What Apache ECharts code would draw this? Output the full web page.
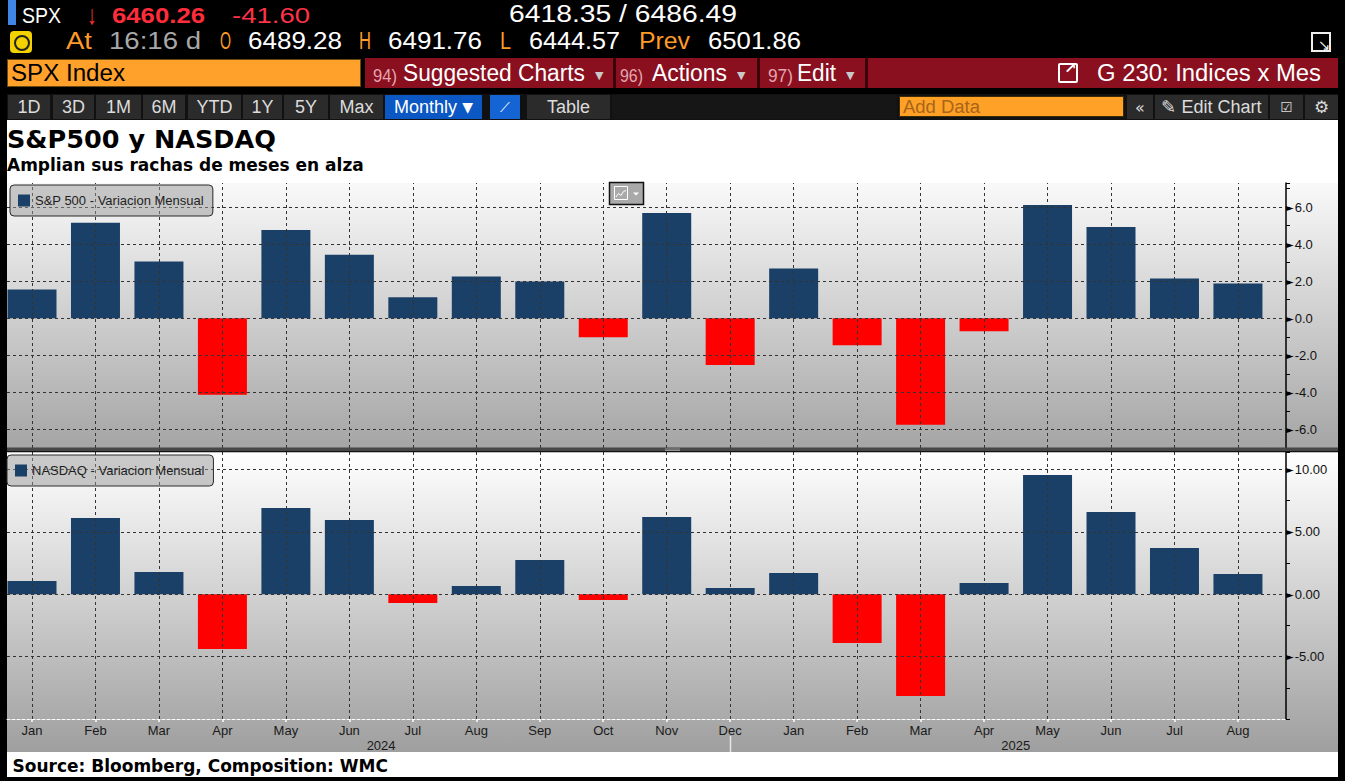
<!DOCTYPE html>
<html><head><meta charset="utf-8">
<script src="https://cdn.jsdelivr.net/npm/echarts@6/dist/echarts.min.js"></script>
<style>
html,body{margin:0;padding:0;background:#000;width:1345px;height:781px;overflow:hidden;}
#chart{position:absolute;left:0;top:0;width:1345px;height:781px;}
.t{position:absolute;white-space:nowrap;font-family:'Liberation Sans',Arial,sans-serif;line-height:1;transform-origin:0 0;}
.b{position:absolute;}
.btn{position:absolute;top:95px;height:24px;background:#2b2b2b;color:#dcdcdc;font-family:'Liberation Sans',Arial,sans-serif;font-size:18px;display:flex;align-items:center;justify-content:center;white-space:nowrap;}
</style></head><body>
<div id="chart"></div>
<div id="hdr">
  <!-- row 1 -->
  <div class="b" style="left:8px;top:0;width:8px;height:25px;background:#3f86e6"></div>
  <div class="t" data-w="39" style="left:22px;top:4.8px;font-size:22.5px;color:#fff">SPX</div>
  <div class="t" data-w="10" style="left:87px;top:2px;font-size:27px;color:#ff3333">↓</div>
  <div class="t" data-w="93" style="left:112px;top:4.8px;font-size:22px;color:#ff2d3c;font-weight:bold">6460.26</div>
  <div class="t" data-w="78" style="left:232px;top:4.8px;font-size:22px;color:#ff3347">-41.60</div>
  <div class="t" data-w="228" style="left:509px;top:2.5px;font-size:23px;color:#fff">6418.35 / 6486.49</div>
  <!-- row 2 -->
  <div class="b" style="left:10px;top:31px;width:22px;height:22px;background:#f3d200;border-radius:4px"></div>
  <div class="b" style="left:14px;top:35px;width:12px;height:12px;border:2px solid #222;border-radius:50%"></div>
  <div class="t" data-w="26" style="left:66px;top:30.3px;font-size:23px;color:#ff9b26">At</div>
  <div class="t" data-w="92" style="left:109px;top:30.3px;font-size:23px;color:#a8a8a8">16:16 d</div>
  <div class="t" data-w="11" style="left:220px;top:30.3px;font-size:23px;color:#ff9b26">O</div>
  <div class="t" data-w="94" style="left:248px;top:30.3px;font-size:23px;color:#fff">6489.28</div>
  <div class="t" data-w="12" style="left:359px;top:30.3px;font-size:23px;color:#ff9b26">H</div>
  <div class="t" data-w="94" style="left:388px;top:30.3px;font-size:23px;color:#fff">6491.76</div>
  <div class="t" data-w="11" style="left:500px;top:30.3px;font-size:23px;color:#ff9b26">L</div>
  <div class="t" data-w="91" style="left:529px;top:30.3px;font-size:23px;color:#fff">6444.57</div>
  <div class="t" data-w="51" style="left:639px;top:30.3px;font-size:23px;color:#ff9b26">Prev</div>
  <div class="t" data-w="93" style="left:708px;top:30.3px;font-size:23px;color:#fff">6501.86</div>
  <div class="b" style="left:1311px;top:32px;width:16px;height:16px;border:2px solid #eee"></div>
  <div class="t" style="left:1318px;top:38px;font-size:15px;color:#eee;font-family:'DejaVu Sans'">↘</div>
  <!-- row 3 -->
  <div class="b" style="left:7px;top:59px;width:354px;height:28px;background:#ffa12b;border:1px solid #6a4a10;box-sizing:border-box"></div>
  <div class="b" style="left:365px;top:58px;width:973px;height:30px;background:#8a0f1f"></div>
  <div class="b" style="left:613px;top:58px;width:3px;height:30px;background:#3a0508"></div>
  <div class="b" style="left:757px;top:58px;width:3px;height:30px;background:#3a0508"></div>
  <div class="b" style="left:865px;top:58px;width:3px;height:30px;background:#3a0508"></div>
  <div class="t" data-w="114" style="left:11px;top:62px;font-size:23px;color:#000">SPX Index</div>
  <div class="t" data-w="24" style="left:373px;top:66.5px;font-size:18px;color:#e3a6ae">94)</div>
  <div class="t" data-w="182" style="left:403px;top:62px;font-size:23px;color:#fff">Suggested Charts</div>
  <div class="t" style="left:595px;top:70px;font-size:11px;color:#c9c9c9;font-family:'DejaVu Sans'">▼</div>
  <div class="t" data-w="23" style="left:620px;top:66.5px;font-size:18px;color:#e3a6ae">96)</div>
  <div class="t" data-w="75" style="left:652px;top:62px;font-size:23px;color:#fff">Actions</div>
  <div class="t" style="left:737px;top:70px;font-size:11px;color:#c9c9c9;font-family:'DejaVu Sans'">▼</div>
  <div class="t" data-w="25" style="left:768px;top:66.5px;font-size:18px;color:#e3a6ae">97)</div>
  <div class="t" data-w="39" style="left:797px;top:62px;font-size:23px;color:#fff">Edit</div>
  <div class="t" style="left:846px;top:70px;font-size:11px;color:#c9c9c9;font-family:'DejaVu Sans'">▼</div>
  <div class="b" style="left:1058px;top:63px;width:16px;height:16px;border:2px solid #fff;border-radius:2px"></div>
  <div class="t" style="left:1064px;top:61px;font-size:15px;color:#fff;font-family:'DejaVu Sans';font-weight:bold">↗</div>
  <div class="t" data-w="224" style="left:1097px;top:62px;font-size:23px;color:#fff">G 230: Indices x Mes</div>
  <!-- row 4 -->
  <div class="b" style="left:7px;top:94px;width:1331px;height:26px;background:#111"></div>
  <div class="btn" style="left:8px;width:42px">1D</div>
  <div class="btn" style="left:53px;width:41px">3D</div>
  <div class="btn" style="left:96px;width:45px">1M</div>
  <div class="btn" style="left:143px;width:42px">6M</div>
  <div class="btn" style="left:188px;width:53px">YTD</div>
  <div class="btn" style="left:243px;width:39px">1Y</div>
  <div class="btn" style="left:284px;width:44px">5Y</div>
  <div class="btn" style="left:330px;width:53px">Max</div>
  <div class="btn" style="left:385px;width:97px;background:#0b57c4;color:#fff">Monthly&nbsp;<span style="font-family:'DejaVu Sans';font-size:14px">▼</span></div>
  <div class="btn" style="left:490px;width:30px;background:#1464d4;color:#fff;font-family:'DejaVu Sans';font-size:14px">⟋</div>
  <div class="btn" style="left:527px;width:83px">Table</div>
  <div class="btn" style="left:612px;width:285px;background:#161616"></div>
  <div class="b" style="left:899px;top:96px;width:225px;height:21px;background:#ffa126;border:1px solid #3a2a08;box-sizing:border-box"></div>
  <div class="t" data-w="77" style="left:903px;top:97.7px;font-size:18px;color:#a8641a">Add Data</div>
  <div class="btn" style="left:1127px;width:26px;font-family:'DejaVu Sans';font-size:16px">«</div>
  <div class="btn" style="left:1155px;width:113px">✎&nbsp;Edit Chart</div>
  <div class="btn" style="left:1270px;width:33px;font-family:'DejaVu Sans';font-size:14px">☑</div>
  <div class="btn" style="left:1305px;width:33px;font-family:'DejaVu Sans';font-size:17px">⚙</div>
</div>
<script>
// ---------------- data ----------------
const months = ['Jan','Feb','Mar','Apr','May','Jun','Jul','Aug','Sep','Oct','Nov','Dec',
                'Jan','Feb','Mar','Apr','May','Jun','Jul','Aug'];
const monthYear = ['2024','2024','2024','2024','2024','2024','2024','2024','2024','2024','2024','2024',
                   '2025','2025','2025','2025','2025','2025','2025','2025'];
const spxChange = [1.55, 5.15, 3.06, -4.13, 4.77, 3.43, 1.13, 2.25, 1.98, -1.02, 5.68, -2.52,
                   2.68, -1.45, -5.74, -0.70, 6.11, 4.93, 2.14, 1.88];
const ndxChange = [1.07, 6.11, 1.79, -4.38, 6.91, 5.95, -0.70, 0.66, 2.75, -0.46, 6.19, 0.50,
                   1.71, -3.90, -8.15, 0.91, 9.56, 6.59, 3.71, 1.63];
const spxTickLabels = [-6, -4, -2, 0, 2, 4, 6];
const ndxTickLabels = [-5, 0, 5, 10];
const spxName = 'S&P 500 - Variacion Mensual';
const ndxName = 'NASDAQ - Variacion Mensual';
const titleText = 'S&P500 y NASDAQ';
const subtitleText = 'Amplian sus rachas de meses en alza';
const sourceText = 'Source: Bloomberg, Composition: WMC';

// ---------------- header fitting ----------------
document.querySelectorAll('.t[data-w]').forEach(el => {
  const w = parseFloat(el.dataset.w);
  const nat = el.getBoundingClientRect().width;
  if (nat > 0) el.style.transform = 'scaleX(' + (w / nat) + ')';
});

// ---------------- chart ----------------
const NAVY = '#1b4068', RED = '#ff0000';
const idx = months.map((_, i) => i);
const X_MIN = -0.394, X_MAX = 19.757;
const chart = echarts.init(document.getElementById('chart'), null, {renderer: 'svg'});

function barSeries(name, vals, gi) {
  return {
    name: name, type: 'bar', xAxisIndex: gi, yAxisIndex: gi,
    data: vals.map((v, i) => [i, v]),
    barWidth: 49, z: 3,
    itemStyle: {color: p => (p.value[1] >= 0 ? NAVY : RED)}
  };
}
function gridLineSeries(gi, yVals) {
  return {
    type: 'line', xAxisIndex: gi, yAxisIndex: gi, data: [], z: 1, silent: true,
    markLine: {
      silent: true, symbol: ['none', 'none'], label: {show: false},
      lineStyle: {color: '#333', type: [3, 3], width: 1},
      emphasis: {disabled: true},
      data: yVals.map(v => ({yAxis: v})).concat(idx.map(i => ({xAxis: i})))
    }
  };
}
const labelRich = {a: {fontFamily: 'DejaVu Sans', fontSize: 10, color: '#000', padding: [0, 1, 0, 0]}};
function yAxis(gi, min, max, interval, labels, digits) {
  return {
    type: 'value', gridIndex: gi, position: 'right', min: min, max: max, interval: interval,
    axisLine: {show: true, onZero: false, lineStyle: {color: '#000', width: 1.5}},
    axisTick: {show: true, length: 4, lineStyle: {color: '#000'}},
    splitLine: {show: false},
    axisLabel: {
      margin: 0, color: '#111', fontSize: 13, fontFamily: 'Liberation Sans, Arial, sans-serif',
      formatter: v => (labels.some(l => Math.abs(l - v) < 1e-9) ? '{a|►}' + v.toFixed(digits) : ''),
      rich: labelRich
    }
  };
}

const gradient = (c0, c1) => new echarts.graphic.LinearGradient(0, 0, 0, 1, [{offset: 0, color: c0}, {offset: 1, color: c1}]);
const legendStyle = {
  icon: 'rect', itemWidth: 12, itemHeight: 12, padding: [9, 9, 9, 8],
  backgroundColor: 'rgba(150,150,150,0.5)', borderColor: '#2a2a2a', borderWidth: 1, borderRadius: 4,
  selectedMode: false, z: 6,
  textStyle: {color: '#1e1e1e', fontSize: 13, fontFamily: 'Liberation Sans, Arial, sans-serif'}
};

chart.setOption({
  animation: false,
  grid: [
    {left: 7, right: 59, top: 183, height: 265},
    {left: 7, right: 59, top: 452, height: 267}
  ],
  xAxis: [
    {type: 'value', gridIndex: 0, min: X_MIN, max: X_MAX, show: true,
     axisLine: {show: false}, axisTick: {show: false}, axisLabel: {show: false}, splitLine: {show: false}},
    {type: 'value', gridIndex: 1, min: X_MIN, max: X_MAX,
     axisLine: {show: true, onZero: false, lineStyle: {color: '#fff', type: [3, 2], width: 1}},
     axisTick: {show: true, customValues: idx, length: 3, lineStyle: {color: '#fff', width: 1.5}},
     axisLabel: {customValues: idx, formatter: v => months[Math.round(v)], color: '#1a1a1a', fontSize: 13,
                 margin: 5, fontFamily: 'Liberation Sans, Arial, sans-serif'},
     splitLine: {show: false}}
  ],
  yAxis: [
    yAxis(0, -7, 7.3, 1, spxTickLabels, 1),
    yAxis(1, -10, 11.4, 2.5, ndxTickLabels, 2)
  ],
  legend: [
    Object.assign({data: [{name: spxName, itemStyle: {color: NAVY}}], left: 10, top: 185}, legendStyle),
    Object.assign({data: [{name: ndxName, itemStyle: {color: NAVY}}], left: 7, top: 455}, legendStyle)
  ],
  series: [
    gridLineSeries(0, spxTickLabels),
    gridLineSeries(1, ndxTickLabels),
    barSeries(spxName, spxChange, 0),
    barSeries(ndxName, ndxChange, 1)
  ]
});

// decorations positioned from the axes
const px = i => chart.convertToPixel({xAxisIndex: 1}, i);
const yearGroups = {};
monthYear.forEach((y, i) => { (yearGroups[y] = yearGroups[y] || []).push(i); });
const yearTexts = Object.keys(yearGroups).map(y => {
  const g = yearGroups[y];
  return {type: 'text', z: 5, x: px((g[0] + g[g.length - 1]) / 2), y: 745,
          style: {text: y, fill: '#1a1a1a', fontSize: 13, fontFamily: 'Liberation Sans, Arial, sans-serif',
                  align: 'center', verticalAlign: 'middle'}};
});
const sepIdx = yearGroups['2024'][yearGroups['2024'].length - 1];
const sepX = Math.round(px(sepIdx)) + 0.5;

chart.setOption({
  graphic: [
    {type: 'rect', z: -10, shape: {x: 7, y: 120, width: 1331, height: 657}, style: {fill: '#fff'}},
    {type: 'rect', z: -9, shape: {x: 7, y: 183, width: 1331, height: 265}, style: {fill: gradient('#f9f9f9', '#a5a5a5')}},
    {type: 'rect', z: -9, shape: {x: 7, y: 452, width: 1331, height: 300}, style: {fill: gradient('#ffffff', '#9f9f9f')}},
    {type: 'rect', z: 6, shape: {x: 7, y: 447.5, width: 1331, height: 4.5}, style: {fill: '#474747'}},
    {type: 'rect', z: 6, shape: {x: 7, y: 451.3, width: 1331, height: 1}, style: {fill: '#000'}},
    {type: 'line', z: 7, shape: {x1: 665, y1: 449, x2: 680, y2: 449}, style: {stroke: '#aaa', lineWidth: 0.8}},
    {type: 'line', z: 7, shape: {x1: 665, y1: 450.5, x2: 680, y2: 450.5}, style: {stroke: '#aaa', lineWidth: 0.8}},
    {type: 'line', z: 5, shape: {x1: sepX, y1: 736, x2: sepX, y2: 752}, style: {stroke: '#e6e6e6', lineWidth: 1.5}},
    // chart-type widget
    {type: 'rect', z: 8, shape: {x: 609.5, y: 182.5, width: 34, height: 22}, style: {fill: '#a9a9a9', stroke: '#111', lineWidth: 1.5}},
    {type: 'rect', z: 9, shape: {x: 614.5, y: 186.5, width: 13, height: 13}, style: {fill: 'none', stroke: '#fff', lineWidth: 1}},
    {type: 'polyline', z: 9, shape: {points: [[616, 197], [618.5, 193.5], [621, 195.5], [623.5, 191.5], [626, 190.5]]}, style: {stroke: '#fff', lineWidth: 1, fill: 'none'}},
    {type: 'polygon', z: 9, shape: {points: [[633, 192.5], [639, 192.5], [636, 195.5]]}, style: {fill: '#fff'}},
    // titles
    {type: 'text', z: 5, x: 7, y: 139, style: {text: titleText, fill: '#000', fontSize: 25.5, fontWeight: 'bold',
      fontFamily: 'DejaVu Sans, Verdana, sans-serif', verticalAlign: 'middle'}},
    {type: 'text', z: 5, x: 7, y: 164.5, style: {text: subtitleText, fill: '#000', fontSize: 17, fontWeight: 'bold',
      fontFamily: 'DejaVu Sans, Verdana, sans-serif', verticalAlign: 'middle'}},
    {type: 'text', z: 5, x: 12.5, y: 766, style: {text: sourceText, fill: '#000', fontSize: 17, fontWeight: 'bold',
      fontFamily: 'DejaVu Sans, Verdana, sans-serif', verticalAlign: 'middle'}}
  ].concat(yearTexts)
});
</script>
</body></html>
